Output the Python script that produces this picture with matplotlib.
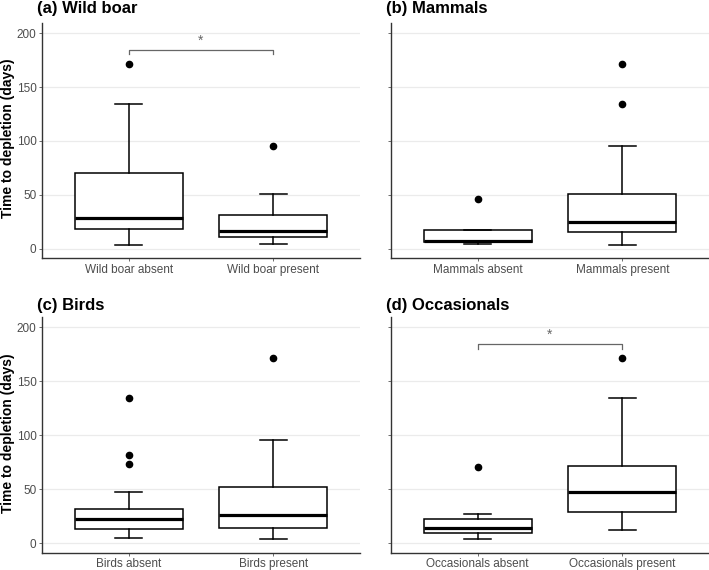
import matplotlib
matplotlib.use("Agg")
import matplotlib.pyplot as plt

plt.rcParams['font.family'] = ['Liberation Sans', 'DejaVu Sans']

# ---- data ----
panel_titles = ["(a) Wild boar", "(b) Mammals", "(c) Birds", "(d) Occasionals"]
categories = [["Wild boar absent", "Wild boar present"],
              ["Mammals absent", "Mammals present"],
              ["Birds absent", "Birds present"],
              ["Occasionals absent", "Occasionals present"]]

# each: [whisker low, Q1, median, Q3, whisker high]
wildboar_absent = [3.7, 18.3, 28.3, 70.5, 134.5]
wildboar_absent_out = [171.4]
wildboar_present = [4.7, 10.6, 16.5, 31.4, 50.9]
wildboar_present_out = [95.7]

mammals_absent = [4.3, 5.9, 7.5, 17.7, 17.7]
mammals_absent_out = [45.7]
mammals_present = [3.7, 15.5, 24.8, 50.9, 95.7]
mammals_present_out = [134.5, 171.4]

birds_absent = [4.6, 13.3, 22.6, 31.6, 47.7]
birds_absent_out = [73.7, 81.7, 134.4]
birds_present = [3.7, 14.6, 26.6, 52.6, 95.4]
birds_present_out = [171.2]

occasionals_absent = [3.7, 9.6, 14.6, 22.6, 27.6]
occasionals_absent_out = [70.6]
occasionals_present = [12.1, 28.8, 47.7, 71.5, 134.4]
occasionals_present_out = [171.2]

panel_stats = [
    [(wildboar_absent, wildboar_absent_out), (wildboar_present, wildboar_present_out)],
    [(mammals_absent, mammals_absent_out), (mammals_present, mammals_present_out)],
    [(birds_absent, birds_absent_out), (birds_present, birds_present_out)],
    [(occasionals_absent, occasionals_absent_out), (occasionals_present, occasionals_present_out)],
]
significance = [True, False, False, True]
bracket_y = 185
bracket_tick = 180.4
yticks = [0, 50, 100, 150, 200]
ylabel = "Time to depletion (days)"

# ---- layout ----
W, H = 709, 570
fig = plt.figure(figsize=(W / 100, H / 100), dpi=100)
rects = [
    (42, 360, 22.7, 258),
    (391, 709, 22.7, 258),
    (42, 360, 316.7, 552.7),
    (391, 709, 316.7, 552.7),
]
title_pads = [7, 7, 5, 5]

for i, (l, r, t, b) in enumerate(rects):
    ax = fig.add_axes([l / W, 1 - b / H, (r - l) / W, (b - t) / H])
    stats = []
    for (five, out), lab in zip(panel_stats[i], categories[i]):
        stats.append(dict(whislo=five[0], q1=five[1], med=five[2], q3=five[3],
                          whishi=five[4], fliers=out, label=lab))
    ax.bxp(stats, positions=[1, 2], widths=0.75, capwidths=0.1875,
           manage_ticks=False, patch_artist=True,
           boxprops=dict(facecolor='white', edgecolor='black', linewidth=1.1),
           medianprops=dict(color='black', linewidth=2.3, solid_capstyle='butt'),
           whiskerprops=dict(color='black', linewidth=1.1),
           capprops=dict(color='black', linewidth=1.1),
           flierprops=dict(marker='o', markerfacecolor='black', markeredgecolor='black',
                           markersize=4.5, linestyle='none'),
           zorder=3)
    ax.set_xlim(0.4, 2.6)
    ax.set_ylim(-8.7, 209.9)
    ax.set_xticks([1, 2])
    ax.set_xticklabels(categories[i], fontsize=8.5, color='#4D4D4D')
    ax.set_yticks(yticks)
    if i % 2 == 0:
        ax.set_yticklabels([str(v) for v in yticks], fontsize=8.5, color='#4D4D4D')
        fig.text(8.5 / W, 1 - ((t + b) / 2 - 2) / H, ylabel, rotation=90,
                 ha='center', va='center', fontsize=10, fontweight='bold')
    else:
        ax.set_yticklabels([])
    ax.tick_params(axis='both', length=2.5, width=0.6, color='#555555', pad=1.5)
    ax.grid(axis='y', color='#EBEBEB', linewidth=0.9, zorder=0)
    ax.set_axisbelow(True)
    for s in ['top', 'right']:
        ax.spines[s].set_visible(False)
    for s in ['left', 'bottom']:
        ax.spines[s].set_color('#333333')
        ax.spines[s].set_linewidth(1.0)
    ax.set_title(panel_titles[i], loc='left', fontsize=12, fontweight='bold',
                 pad=title_pads[i], x=-0.016)
    if significance[i]:
        ax.plot([1, 1, 2, 2], [bracket_tick, bracket_y, bracket_y, bracket_tick],
                color='#666666', linewidth=0.9, zorder=4)
        ax.text(1.5, bracket_y + 2, "*", ha='center', va='bottom', fontsize=10,
                color='#666666')

fig.savefig("out.png", dpi=100)
